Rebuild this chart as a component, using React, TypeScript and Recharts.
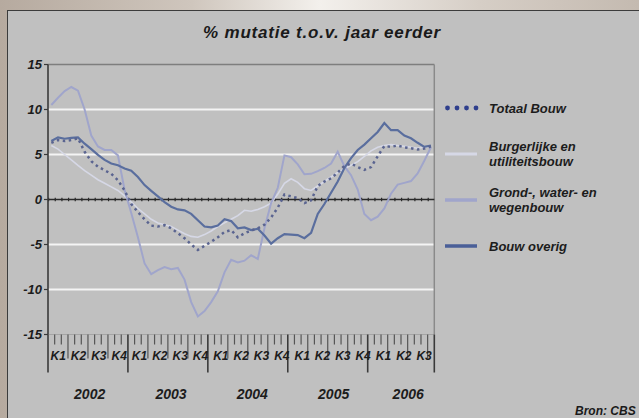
import React from 'react';
import { LineChart, Line, XAxis, YAxis, ReferenceLine, Legend } from 'recharts';

const YEARS = ['2002', '2003', '2004', '2005', '2006'];
const YEAR_MONTHS = [12, 12, 12, 12, 10];
const QUARTERS = ['K1', 'K2', 'K3', 'K4'];
const Y_TICKS = [-15, -10, -5, 0, 5, 10, 15];
const GRID_VALUES = [-10, -5, 5, 10];

const TOTAAL = [
  6.3, 6.6, 6.5, 6.6, 6.8, 5.3, 4.25, 3.65, 3.25, 2.85, 2.15, 1.0,
  -0.5, -1.4, -2.2, -2.9, -3.0, -2.85, -3.2, -3.75, -4.3, -5.0, -5.6, -5.15,
  -4.7, -4.2, -3.6, -3.4, -4.2, -3.75, -3.45, -3.2, -2.8, -2.0, -0.9, 0.55,
  0.35, 0.15, -0.4, -0.1, 1.5, 2.0, 2.35, 3.0, 3.75, 4.0, 3.6, 3.3,
  3.6, 4.8, 5.95, 5.85, 6.0, 5.8, 5.7, 5.55, 5.65, 5.9,
];
const BURGERLIJK = [
  6.0, 5.6, 5.0, 4.4, 3.8, 3.2, 2.7, 2.2, 1.8, 1.4, 1.0, 0.4,
  -0.3, -1.0, -1.6, -2.2, -2.6, -2.8, -3.0, -3.4, -3.8, -4.1, -4.2, -3.9,
  -3.5, -3.0, -2.6, -2.2, -1.8, -1.2, -1.3, -1.1, -0.8, -0.4, 0.6, 1.8,
  2.3, 1.9, 1.2, 1.0, 1.5, 2.0, 2.5, 3.0, 3.4, 3.8, 4.2, 4.8,
  5.4, 5.8, 6.0, 6.1, 6.0, 5.9, 5.8, 5.7, 5.8, 5.9,
];
const GROND = [
  10.5, 11.3, 12.05, 12.5, 12.1, 10.0, 7.1, 5.9, 5.5, 5.5, 4.9, 1.05,
  -1.5, -4.2, -7.1, -8.3, -7.85, -7.5, -7.75, -7.6, -8.9, -11.4, -13.0, -12.4,
  -11.4, -10.2, -8.1, -6.7, -7.0, -6.8, -6.2, -6.6, -3.2, -0.4, 1.3, 4.9,
  4.7, 3.9, 2.8, 2.85, 3.15, 3.5, 4.0, 5.3, 3.7, 2.7, 1.1, -1.6,
  -2.3, -1.9, -1.0, 0.65, 1.65, 1.85, 2.05, 2.9, 4.3, 5.8,
];
const OVERIG = [
  6.5, 6.9, 6.75, 6.85, 6.9, 6.2, 5.6, 4.95, 4.4, 4.0, 3.8, 3.45,
  3.2, 2.5, 1.6, 0.95, 0.35, -0.3, -0.8, -1.1, -1.2, -1.6, -2.3, -3.0,
  -3.1, -2.9, -2.2, -2.4, -3.2, -3.1, -3.4, -3.25, -4.0, -4.9, -4.3, -3.85,
  -3.9, -3.95, -4.3, -3.7, -1.6, -0.5, 0.75, 2.0, 3.5, 4.6, 5.5, 6.1,
  6.8, 7.5, 8.5, 7.7, 7.7, 7.1, 6.8, 6.3, 5.85, 6.0,
];

const SERIES = [
  { key: 'totaal', name: 'Totaal Bouw' },
  { key: 'burgerlijk', name: 'Burgerlijke en\nutiliteitsbouw' },
  { key: 'grond', name: 'Grond-, water- en\nwegenbouw' },
  { key: 'overig', name: 'Bouw overig' },
];

const MONTHS = YEAR_MONTHS.reduce((a, b) => a + b, 0);
const data = TOTAAL.map((v, i) => ({
  m: i + 0.5,
  totaal: v,
  burgerlijk: BURGERLIJK[i],
  grond: GROND[i],
  overig: OVERIG[i],
}));

const MONTH_TICKS = Array.from({ length: MONTHS + 1 }, (_, i) => i);
const YEAR_STARTS: number[] = [];
YEAR_MONTHS.reduce((acc, n) => { YEAR_STARTS.push(acc); return acc + n; }, 0);
const YEAR_CENTERS = YEAR_STARTS.map((s, i) => s + YEAR_MONTHS[i] / 2);
const QUARTER_CENTERS: number[] = [];
const QUARTER_LABELS: Record<string, string> = {};
YEAR_STARTS.forEach((s, yi) => {
  const nq = Math.floor(YEAR_MONTHS[yi] / 3);
  for (let q = 0; q < nq; q++) {
    const c = s + q * 3 + 1.5;
    QUARTER_CENTERS.push(c);
    QUARTER_LABELS[String(c)] = QUARTERS[q];
  }
});
const YEAR_LABELS: Record<string, string> = {};
YEAR_CENTERS.forEach((c, i) => { YEAR_LABELS[String(c)] = YEARS[i]; });

const FONT = "'Liberation Sans', Arial, sans-serif";

const MonthTick = (props: any) => {
  const { x, y, payload } = props;
  const v = payload.value;
  const isYear = v % 12 === 0 || v === MONTHS;
  const len = isYear ? 38 : v % 3 === 0 ? 24 : 10;
  return (
    <line x1={x} x2={x} y1={y} y2={y + len} stroke={isYear ? '#3a3a3a' : '#555'} strokeWidth={isYear ? 1.6 : 1.2} />
  );
};

const QuarterTick = (props: any) => {
  const { x, y, payload } = props;
  return (
    <text x={x} y={y + 24} textAnchor="middle" fontFamily={FONT} fontWeight="bold" fontStyle="italic" fontSize={12} fill="#1c1c1c">
      {QUARTER_LABELS[String(payload.value)]}
    </text>
  );
};

const YearTick = (props: any) => {
  const { x, y, payload } = props;
  return (
    <text x={x + 1} y={y + 62.5} textAnchor="middle" fontFamily={FONT} fontWeight="bold" fontStyle="italic" fontSize={14} fill="#1c1c1c">
      {YEAR_LABELS[String(payload.value)]}
    </text>
  );
};

const LEGEND_ORDER = SERIES.map((s) => s.key);

const Marker = ({ k }: { k: string }) => {
  if (k === 'totaal') {
    return (
      <svg width={44} height={10}>
        {[2.5, 12, 21.5, 31].map((cx) => (
          <circle key={cx} cx={cx} cy={5} r={2.4} fill="#2f3f8c" />
        ))}
      </svg>
    );
  }
  const style: Record<string, { c: string; w: number }> = {
    burgerlijk: { c: '#d6d8e6', w: 3 },
    grond: { c: '#a0a5cb', w: 3.5 },
    overig: { c: '#4a5f98', w: 3.5 },
  };
  const s = style[k];
  return (
    <svg width={44} height={10}>
      <line x1={0} x2={32} y1={5} y2={5} stroke={s.c} strokeWidth={s.w} />
    </svg>
  );
};

const renderLegend = (props: any) => {
  const items = [...(props.payload || [])].sort(
    (a: any, b: any) => LEGEND_ORDER.indexOf(a.dataKey) - LEGEND_ORDER.indexOf(b.dataKey)
  );
  return (
    <div>
      {items.map((it: any) => (
        <div key={it.dataKey} style={{ height: 46, display: 'flex', alignItems: 'center' }}>
          <Marker k={it.dataKey} />
          <div
            style={{
              fontFamily: FONT,
              fontWeight: 'bold',
              fontStyle: 'italic',
              fontSize: 13,
              lineHeight: '15px',
              color: '#1c1c1c',
              whiteSpace: 'pre-line',
            }}
          >
            {it.value}
          </div>
        </div>
      ))}
    </div>
  );
};

export default function App() {
  return (
    <div
      style={{
        position: 'absolute',
        left: 0,
        top: 0,
        width: 639,
        height: 418,
        overflow: 'hidden',
        background:
          'linear-gradient(90deg, #b6aa9f 0%, #cfc6bd 30%, #f3f0ec 50%, #d6cec6 75%, #c4bab0 100%)',
      }}
    >
      <div
        style={{
          position: 'absolute',
          left: 7,
          top: 10,
          width: 700,
          height: 500,
          background: '#c0c0c0',
          borderTop: '1.5px solid #3c3c3c',
          borderLeft: '1.5px solid #3c3c3c',
        }}
      />
      <div
        style={{
          position: 'absolute',
          left: 0,
          top: 23,
          width: 644,
          textAlign: 'center',
          fontFamily: FONT,
          fontWeight: 'bold',
          fontStyle: 'italic',
          fontSize: 17,
          letterSpacing: 0.8,
          lineHeight: '20px',
          color: '#1a1a1a',
        }}
      >
        % mutatie t.o.v. jaar eerder
      </div>
      <div style={{ position: 'absolute', left: 0, top: 0 }}>
        <LineChart
          width={639}
          height={418}
          data={data}
          margin={{ top: 64.5, right: 204.7, bottom: 80.5, left: 0 }}
        >
          <XAxis
            type="number"
            dataKey="m"
            domain={[0, MONTHS]}
            ticks={MONTH_TICKS}
            interval={0}
            allowDataOverflow
            height={1}
            tickSize={0}
            tickMargin={0}
            tickLine={false}
            axisLine={{ stroke: '#a4a4a4', strokeWidth: 1 }}
            tick={MonthTick}
          />
          <XAxis
            xAxisId="q"
            type="number"
            domain={[0, MONTHS]}
            ticks={QUARTER_CENTERS}
            interval={0}
            allowDataOverflow
            height={1}
            tickSize={0}
            tickMargin={0}
            tickLine={false}
            axisLine={false}
            tick={QuarterTick}
          />
          <XAxis
            xAxisId="yr"
            type="number"
            domain={[0, MONTHS]}
            ticks={YEAR_CENTERS}
            interval={0}
            allowDataOverflow
            height={1}
            tickSize={0}
            tickMargin={0}
            tickLine={false}
            axisLine={false}
            tick={YearTick}
          />
          <YAxis
            type="number"
            domain={[-15, 15]}
            ticks={Y_TICKS}
            interval={0}
            width={48}
            tickSize={4}
            tickMargin={2}
            axisLine={{ stroke: '#3a3a3a', strokeWidth: 1.6 }}
            tickLine={{ stroke: '#3a3a3a', strokeWidth: 1.2 }}
            tick={{ fontFamily: FONT, fontWeight: 'bold', fontStyle: 'italic', fontSize: 13, fill: '#1c1c1c' }}
          />
          {GRID_VALUES.map((v) => (
            <ReferenceLine key={v} y={v} stroke="#f4f4f4" strokeWidth={2} />
          ))}
          <ReferenceLine y={15} stroke="#7e7e7e" strokeWidth={1.5} />
          <ReferenceLine x={MONTHS} stroke="#8a8a8a" strokeWidth={1.5} />
          <ReferenceLine y={0} stroke="#2a2a2a" strokeWidth={1.5} />
          <ReferenceLine y={0} stroke="#2a2a2a" strokeWidth={3.5} strokeDasharray="1.2 5.46" />
          <Line
            dataKey="burgerlijk"
            name={SERIES[1].name}
            type="linear"
            stroke="#d6d8e6"
            strokeWidth={1.6}
            dot={false}
            isAnimationActive={false}
          />
          <Line
            dataKey="grond"
            name={SERIES[2].name}
            type="linear"
            stroke="#a0a5cb"
            strokeWidth={2}
            dot={false}
            isAnimationActive={false}
          />
          <Line
            dataKey="overig"
            name={SERIES[3].name}
            type="linear"
            stroke="#5a6e9e"
            strokeWidth={2.2}
            dot={false}
            isAnimationActive={false}
          />
          <Line
            dataKey="totaal"
            name={SERIES[0].name}
            type="linear"
            stroke="#5a6490"
            strokeWidth={2.5}
            strokeDasharray="2.5 3.5"
            dot={false}
            isAnimationActive={false}
          />
          <Legend
            layout="vertical"
            align="center"
            verticalAlign="middle"
            content={renderLegend}
            wrapperStyle={{ left: 445, top: 85, width: 194, height: 190 }}
          />
        </LineChart>
      </div>
      <div
        style={{
          position: 'absolute',
          left: 575,
          top: 404,
          fontFamily: FONT,
          fontWeight: 'bold',
          fontStyle: 'italic',
          fontSize: 12,
          lineHeight: '14px',
          color: '#1a1a1a',
          whiteSpace: 'nowrap',
        }}
      >
        Bron: CBS
      </div>
    </div>
  );
}
